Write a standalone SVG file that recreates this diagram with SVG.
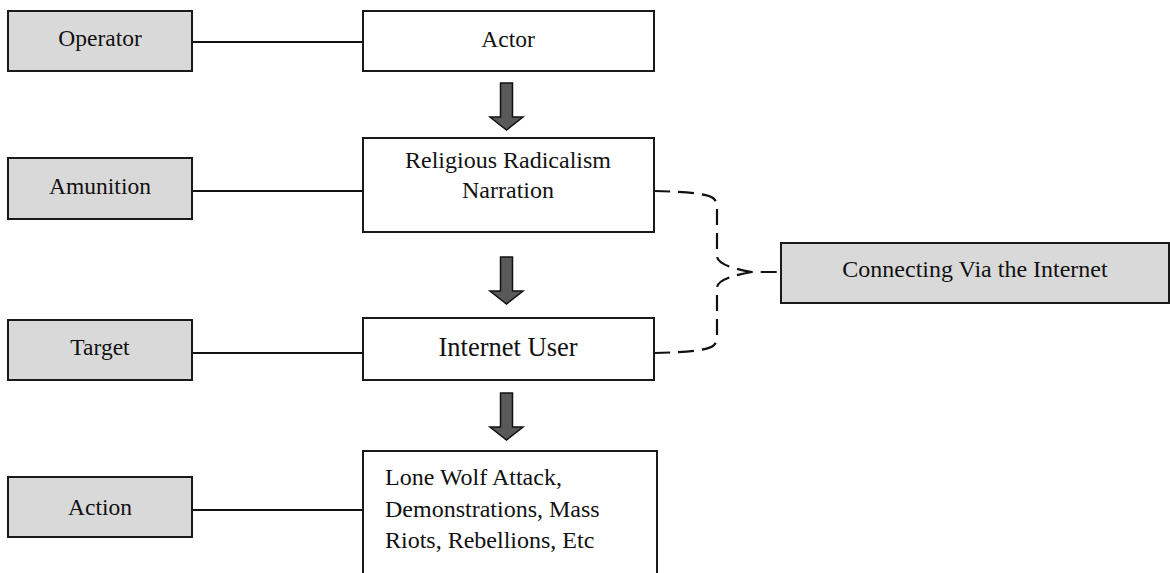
<svg xmlns="http://www.w3.org/2000/svg" width="1170" height="573" viewBox="0 0 1170 573">
<style>
.gray{fill:#d9d9d9;stroke:#1a1a1a;stroke-width:2}
.white{fill:#ffffff;stroke:#1a1a1a;stroke-width:2}
.t{font-family:"Liberation Serif","Times New Roman",serif;font-size:23.5px;fill:#111;text-anchor:middle}
.tl{font-family:"Liberation Serif","Times New Roman",serif;font-size:24px;fill:#111}
.link{stroke:#111;stroke-width:2.2;fill:none}
.dash{stroke:#111;stroke-width:2.2;fill:none;stroke-dasharray:16 8}
.arrow{fill:#595959;stroke:#111;stroke-width:1.5}
</style>
<rect width="1170" height="573" fill="#ffffff"/>
<g id="connectors">
<line class="link" x1="192" y1="42" x2="363" y2="42"/>
<line class="link" x1="192" y1="191" x2="363" y2="191"/>
<line class="link" x1="192" y1="353" x2="363" y2="353"/>
<line class="link" x1="192" y1="510" x2="363" y2="510"/>
<path class="arrow" d="M500.5,83 H512.5 V117 H523 L506.5,130 L490,117 H500.5 Z"/>
<path class="arrow" d="M500.5,257 H512.5 V291 H523 L506.5,304 L490,291 H500.5 Z"/>
<path class="arrow" d="M500.5,393 H512.5 V427 H523 L506.5,440 L490,427 H500.5 Z"/>
<path class="dash" d="M654,191 Q705,192 713,198 Q717,201 717,208 L717,256 Q717,266 752,272 L781,272"/>
<path class="dash" d="M654,353 Q705,352 713,346 Q717,343 717,336 L717,288 Q717,278 752,272"/>
</g>
<g id="operator"><rect class="gray" x="8" y="11" width="184" height="60"/><text class="t" x="100" y="46">Operator</text></g>
<g id="amunition"><rect class="gray" x="8" y="158" width="184" height="61"/><text class="t" x="100" y="194">Amunition</text></g>
<g id="target"><rect class="gray" x="8" y="320" width="184" height="60"/><text class="t" x="100" y="355">Target</text></g>
<g id="action"><rect class="gray" x="8" y="477" width="184" height="60"/><text class="t" x="100" y="515">Action</text></g>
<g id="actor"><rect class="white" x="363" y="11" width="291" height="60"/><text class="t" x="508" y="47">Actor</text></g>
<g id="narration"><rect class="white" x="363" y="138" width="291" height="94"/><text class="t" x="508" y="168" style="font-size:24px">Religious Radicalism</text><text class="t" x="508" y="198" style="font-size:24px">Narration</text></g>
<g id="internet-user"><rect class="white" x="363" y="318" width="291" height="62"/><text class="t" x="508" y="356" style="font-size:26.5px">Internet User</text></g>
<g id="lone-wolf"><rect class="white" x="363" y="451" width="294" height="130"/><text class="tl" x="385" y="485">Lone Wolf Attack,</text><text class="tl" x="385" y="517">Demonstrations, Mass</text><text class="tl" x="385" y="548">Riots, Rebellions, Etc</text></g>
<g id="internet"><rect class="gray" x="781" y="243" width="388" height="60"/><text class="t" x="975" y="277" style="font-size:24px">Connecting Via the Internet</text></g>
</svg>
